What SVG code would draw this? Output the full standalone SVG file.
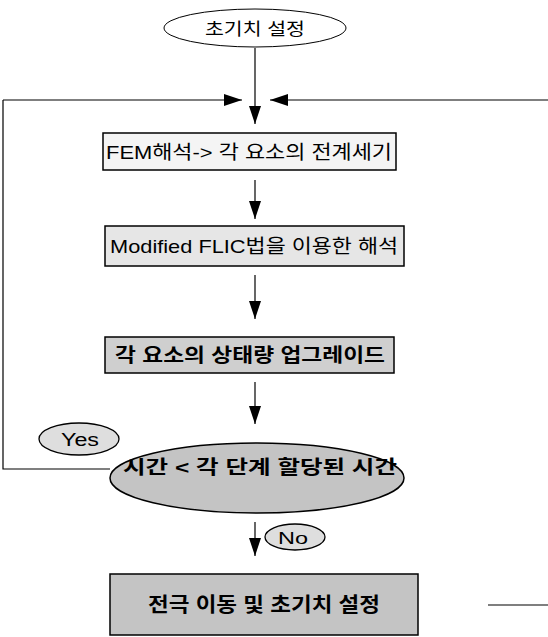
<svg xmlns="http://www.w3.org/2000/svg" width="548" height="637" viewBox="0 0 548 637">
<defs>
<marker id="ah" viewBox="0 0 10 10" refX="10" refY="5" markerWidth="10" markerHeight="10" markerUnits="userSpaceOnUse" orient="auto">
<path d="M0,0 L10,5 L0,10 z" fill="#000"/>
</marker>
<marker id="ahw" viewBox="0 0 18 12" refX="18" refY="6" markerWidth="18" markerHeight="12" markerUnits="userSpaceOnUse" orient="auto">
<path d="M0,0 L18,6 L0,12 z" fill="#000"/>
</marker>
<pattern id="speck" width="6" height="6" patternUnits="userSpaceOnUse">
<rect width="6" height="6" fill="#d4d4d4"/>
<rect x="1" y="1" width="1" height="1" fill="#fff"/>
<rect x="4" y="3" width="1" height="1" fill="#9a9a9a"/>
<rect x="2" y="4" width="1" height="1" fill="#f0f0f0"/>
</pattern>
</defs>
<style>
.t{font-family:"Liberation Sans","Noto Sans CJK KR",sans-serif;fill:#000;text-anchor:middle;dominant-baseline:central}
.ln{stroke:#000;stroke-width:1.2;fill:none}
.bx{stroke:#000;stroke-width:1.5}
</style>
<rect width="548" height="637" fill="#fff"/>
<g id="connectors" class="ln">
<line x1="255" y1="48" x2="255" y2="124" marker-end="url(#ahw)"/>
<line x1="3" y1="100" x2="242" y2="100" marker-end="url(#ahw)"/>
<line x1="548" y1="100" x2="270" y2="100" marker-end="url(#ahw)"/>
<polyline points="110,469 3,469 3,100"/>
<line x1="255" y1="180" x2="255" y2="219" marker-end="url(#ahw)"/>
<line x1="255" y1="275" x2="255" y2="319" marker-end="url(#ahw)"/>
<line x1="255" y1="382" x2="255" y2="424" marker-end="url(#ahw)"/>
<line x1="255" y1="522" x2="255" y2="556" marker-end="url(#ahw)"/>
<line x1="488" y1="605" x2="548" y2="605"/>
</g>
<g id="start">
<ellipse cx="255" cy="28" rx="91" ry="19" fill="#fff" stroke="#000" stroke-width="1"/>
<text class="t" x="255" y="29" font-size="17" textLength="100" lengthAdjust="spacingAndGlyphs">초기치 설정</text>
</g>
<g id="fem">
<rect class="bx" x="103" y="133" width="293" height="37" fill="#f4f4f4"/>
<text class="t" x="249" y="152" font-size="19" textLength="286" lengthAdjust="spacingAndGlyphs">FEM해석-&gt; 각 요소의 전계세기</text>
</g>
<g id="flic">
<rect class="bx" x="105" y="226" width="299" height="40" fill="#e6e6e6"/>
<text class="t" x="254" y="246" font-size="19" textLength="288" lengthAdjust="spacingAndGlyphs">Modified FLIC법을 이용한 해석</text>
</g>
<g id="update">
<rect class="bx" x="105" y="337" width="289" height="36" fill="#cfcfcf"/>
<text class="t" x="250" y="355" font-size="19" font-weight="bold" textLength="270" lengthAdjust="spacingAndGlyphs">각 요소의 상태량 업그레이드</text>
</g>
<g id="decision">
<ellipse cx="257" cy="478" rx="147" ry="35" fill="#c4c4c4" stroke="#000" stroke-width="1.5"/>
<text class="t" x="260" y="467" font-size="19" font-weight="bold" textLength="274" lengthAdjust="spacingAndGlyphs">시간 &lt; 각 단계 할당된 시간</text>
</g>
<g id="yes">
<ellipse cx="79" cy="439" rx="40" ry="16" fill="#dedede" stroke="#000" stroke-width="1.3"/>
<text class="t" x="80" y="440" font-size="18" textLength="38" lengthAdjust="spacingAndGlyphs">Yes</text>
</g>
<g id="no">
<ellipse cx="295" cy="537" rx="30" ry="13" fill="#dedede" stroke="#000" stroke-width="1.3"/>
<text class="t" x="293" y="538" font-size="17" textLength="30" lengthAdjust="spacingAndGlyphs">No</text>
</g>
<g id="final">
<rect class="bx" x="110" y="574" width="308" height="61" fill="#c4c4c4"/>
<text class="t" x="264" y="605" font-size="20" font-weight="bold" textLength="232" lengthAdjust="spacingAndGlyphs">전극 이동 및 초기치 설정</text>
</g>
</svg>
